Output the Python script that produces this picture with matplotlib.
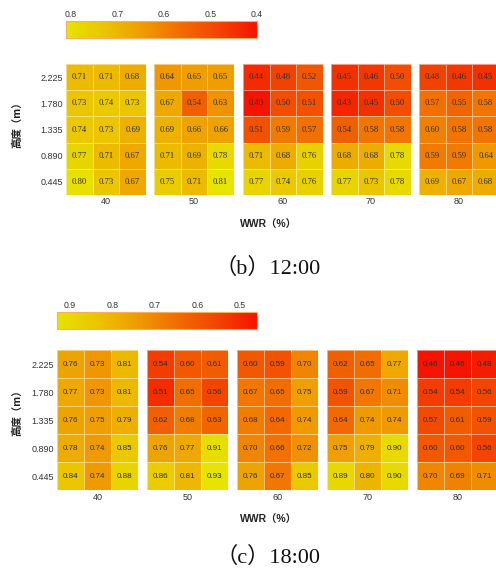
import numpy as np
import matplotlib
matplotlib.use("Agg")
import matplotlib.pyplot as plt
from matplotlib.colors import LinearSegmentedColormap, Normalize
from matplotlib.cm import ScalarMappable

groups = ["40", "50", "60", "70", "80"]
heights = ["2.225", "1.780", "1.335", "0.890", "0.445"]

# 12:00 values, rows top->bottom, 3 columns per group
b_40 = [[0.71, 0.71, 0.68], [0.73, 0.74, 0.73], [0.74, 0.73, 0.69], [0.77, 0.71, 0.67], [0.80, 0.73, 0.67]]
b_50 = [[0.64, 0.65, 0.65], [0.67, 0.54, 0.63], [0.69, 0.66, 0.66], [0.71, 0.69, 0.78], [0.75, 0.71, 0.81]]
b_60 = [[0.44, 0.48, 0.52], [0.40, 0.50, 0.51], [0.51, 0.59, 0.57], [0.71, 0.68, 0.76], [0.77, 0.74, 0.76]]
b_70 = [[0.45, 0.46, 0.50], [0.43, 0.45, 0.50], [0.54, 0.58, 0.58], [0.68, 0.68, 0.78], [0.77, 0.73, 0.78]]
b_80 = [[0.48, 0.46, 0.45], [0.57, 0.55, 0.58], [0.60, 0.58, 0.58], [0.59, 0.59, 0.64], [0.69, 0.67, 0.68]]

# 18:00 values
c_40 = [[0.76, 0.73, 0.81], [0.77, 0.73, 0.81], [0.76, 0.75, 0.79], [0.78, 0.74, 0.85], [0.84, 0.74, 0.88]]
c_50 = [[0.54, 0.60, 0.61], [0.51, 0.65, 0.56], [0.62, 0.68, 0.63], [0.76, 0.77, 0.91], [0.86, 0.81, 0.93]]
c_60 = [[0.60, 0.59, 0.70], [0.67, 0.65, 0.75], [0.68, 0.64, 0.74], [0.70, 0.66, 0.72], [0.76, 0.67, 0.85]]
c_70 = [[0.62, 0.65, 0.77], [0.59, 0.67, 0.71], [0.64, 0.74, 0.74], [0.75, 0.79, 0.90], [0.89, 0.80, 0.90]]
c_80 = [[0.46, 0.46, 0.48], [0.54, 0.54, 0.56], [0.57, 0.61, 0.59], [0.60, 0.60, 0.56], [0.70, 0.69, 0.71]]

b_ticks = [0.8, 0.7, 0.6, 0.5, 0.4]
c_ticks = [0.9, 0.8, 0.7, 0.6, 0.5]

W, H = 496, 572
fig = plt.figure(figsize=(W / 100, H / 100), dpi=100)

cmap = LinearSegmentedColormap.from_list(
    "ry", [(0.0, "#f51400"), (0.2, "#f24400"), (0.4, "#f16c00"),
           (0.6, "#ef9c00"), (0.8, "#ebc400"), (1.0, "#e6e400")])

CJK = ["Noto Sans CJK SC", "DejaVu Sans"]
SANS = ["Liberation Sans", "DejaVu Sans"]
SERIF = ["Liberation Serif", "Noto Sans CJK SC"]


def px_axes(x0, y0, w, h):
    return fig.add_axes([x0 / W, 1 - (y0 + h) / H, w / W, h / H])


def panel(data_list, lefts, gw, top, gh, cb_box, ticks, cell_font, cell_size,
          lab_y, xl_y, title, title_y, ylab_y):
    allv = np.array(data_list)
    vmin, vmax = allv.min(), allv.max()
    norm = Normalize(vmin=vmin, vmax=vmax)
    for gi, (data, x0) in enumerate(zip(data_list, lefts)):
        ax = px_axes(x0, top, gw, gh)
        arr = np.array(data)
        ax.pcolormesh(arr, cmap=cmap, norm=norm, edgecolors=(1, 1, 1, 0.5), linewidth=0.6)
        ax.set_xlim(0, 3)
        ax.set_ylim(5, 0)
        for s in ax.spines.values():
            s.set_visible(False)
        ax.set_xticks([])
        for r in range(arr.shape[0]):
            for c in range(arr.shape[1]):
                ax.text(c + 0.5, r + 0.5, f"{arr[r, c]:.2f}", ha="center", va="center",
                        fontsize=cell_size, family=cell_font, color="#2e2e2e")
        if gi == 0:
            ax.set_yticks(np.arange(5) + 0.5)
            ax.set_yticklabels(heights, family=SANS, fontsize=6.5, color="#333333")
            ax.tick_params(axis="y", length=0, pad=2)
        else:
            ax.set_yticks([])
        fig.text((x0 + gw / 2) / W, 1 - lab_y / H, groups[gi], ha="center", va="center",
                 fontsize=6.5, family=SANS, color="#333333")
    # colorbar
    cax = px_axes(*cb_box)
    cb = fig.colorbar(ScalarMappable(norm=norm, cmap=cmap), cax=cax, orientation="horizontal")
    cax.invert_xaxis()
    cax.xaxis.set_ticks_position("top")
    cb.set_ticks(ticks)
    cb.set_ticklabels([f"{t:.1f}" for t in ticks])
    cax.tick_params(axis="x", length=0, pad=1.5, labelsize=6.3, labelcolor="#333333")
    for lbl in cax.get_xticklabels():
        lbl.set_family(SANS)
    cb.outline.set_edgecolor("#f2b060")
    cb.outline.set_linewidth(0.8)
    fig.text(268 / W, 1 - xl_y / H, "WWR（%）", ha="center", va="center",
             fontsize=7.5, fontweight="bold", family=["Liberation Sans", "Noto Sans CJK SC"],
             color="#222222")
    fig.text(17 / W, 1 - ylab_y / H, "高度（m）", ha="center", va="center", rotation=90,
             fontsize=7.5, fontweight="bold", family=CJK, color="#222222")
    fig.text(268 / W, 1 - title_y / H, title, ha="center", va="center",
             fontsize=16, family=SERIF, color="#111111")


panel([b_40, b_50, b_60, b_70, b_80], [66, 154, 243, 331, 419], 80, 64, 131,
      (66, 21, 191, 17), b_ticks, ["Liberation Serif"], 6.2,
      202, 225, "（b）12:00", 268, 122)
panel([c_40, c_50, c_60, c_70, c_80], [57, 147, 237, 327, 417], 81, 350, 140,
      (57, 312, 200, 17), c_ticks, ["Liberation Sans"], 5.8,
      497, 520, "（c）18:00", 557, 410)

fig.savefig("out.png", dpi=100)
